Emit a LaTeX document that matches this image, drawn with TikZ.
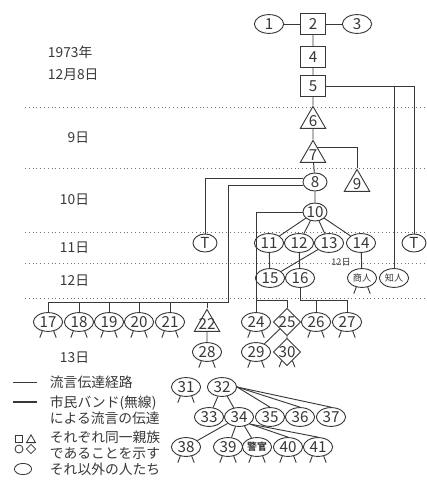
\documentclass[tikz,border=0pt]{standalone}
\usepackage{fontspec}
\setmainfont{Noto Sans CJK JP}
\usetikzlibrary{shapes.geometric}

\definecolor{ink}{gray}{0.22}
\newcommand{\numfont}{\fontsize{10.8}{11}\selectfont}
\newcommand{\dayfont}{\fontsize{9.8}{11.5}\selectfont}
\newcommand{\tinyfont}{\fontsize{6.5}{7}\selectfont}
\newcommand{\legs}[1]{\draw[link] (#1.238) -- ++(-2.5,6.5) (#1.302) -- ++(2.5,6.5);}

\begin{document}
\begin{tikzpicture}[
  x=0.25mm, y=-0.25mm,
  link/.style={draw=ink, line width=0.65pt},
  cb/.style={draw=ink, line width=1.1pt},
  dayline/.style={draw=ink!70, dotted, line width=0.7pt},
  person/.style={draw=ink, line width=0.65pt, ellipse, minimum width=7.3mm, minimum height=4.7mm, inner sep=0pt, text=ink, font=\numfont},
  small/.style={person, minimum width=6mm, minimum height=4.5mm},
  kin/.style={draw=ink, line width=0.65pt, rectangle, minimum width=6.3mm, minimum height=5.2mm, inner sep=0pt, text=ink, font=\numfont},
  num/.style={text=ink, font=\numfont, inner sep=0pt},
  tri/.style={draw=ink, line width=0.65pt, regular polygon, regular polygon sides=3, minimum size=7.3mm, inner sep=0pt, label={[num]center:#1}},
  dia/.style={draw=ink, line width=0.65pt, diamond, minimum width=6.8mm, minimum height=6.8mm, inner sep=0pt, label={[num]center:#1}},
  day/.style={text=ink, font=\dayfont, anchor=east},
  note/.style={text=ink, font=\dayfont, anchor=west, align=left}
]
\fill[white] (0,0) rectangle (427,480);
\useasboundingbox (0,0) rectangle (427,480);

\foreach \y in {107,168,232,263,298}
  \draw[dayline] (25,\y) -- (427,\y);

\node[note] (yr) at (43,52) {1973年};
\node[note] (d8) at (43,75) {12月8日};
\node[day] (d9) at (94,138) {9日};
\node[day] (d10) at (94,200) {10日};
\node[day] (d11) at (94,248) {11日};
\node[day] (d12) at (94,281) {12日};
\node[day] (d13) at (94,358) {13日};

\node[person] (n1) at (269,24) {1};
\node[kin] (n2) at (313,24) {2};
\node[person] (n3) at (357,24) {3};
\node[kin] (n4) at (313,57) {4};
\node[kin] (n5) at (313,86) {5};
\node[tri=6] (n6) at (313,121) {};
\node[tri=7] (n7) at (313,155) {};
\node[small] (n8) at (315,182) {8};
\node[tri=9] (n9) at (357,184) {};
\node[small] (n10) at (315,212) {10};
\node[small] (tL) at (205,243) {T};
\node[small] (tR) at (414,243) {T};
\foreach \n/\x in {11/269,12/299,13/329,14/361}
  \node[person] (n\n) at (\x,243) {\n};
\node[person] (n15) at (270,278) {15};
\node[person] (n16) at (300,278) {16};
\node[person, font=\tinyfont] (mer) at (362,278) {商人};
\node[person, font=\tinyfont] (acq) at (394,278) {知人};
\node[num, font=\tinyfont] (on12) at (341,262) {12日};

\foreach \n/\x in {17/48,18/79,19/109,20/139,21/170}
  \node[person] (n\n) at (\x,322) {\n};
\node[tri=22] (n22) at (207,324) {};
\node[person] (n28) at (207,352) {28};
\node[person] (n24) at (256,322) {24};
\node[dia=25] (n25) at (287,322) {};
\node[person] (n26) at (316,322) {26};
\node[person] (n27) at (347,322) {27};
\node[person] (n29) at (256,352) {29};
\node[dia=30] (n30) at (287,352) {};

\node[person] (n31) at (186,387) {31};
\node[person] (n32) at (222,387) {32};
\foreach \n/\x in {33/209,34/239,35/270,36/300,37/331}
  \node[person] (n\n) at (\x,417) {\n};
\node[person] (n38) at (186,447) {38};
\node[person] (n39) at (228,447) {39};
\node[person, font=\fontsize{7}{7}\selectfont\bfseries] (pol) at (257,447) {警官};
\node[person] (n40) at (288,447) {40};
\node[person] (n41) at (318,447) {41};

\draw[link] (n1) -- (n2) -- (n3);
\draw[link] (n2) -- (n4) -- (n5) -- (n6) -- (n7) -- (n8) -- (n10);
\draw[link] (n7.60) -- (n7.60 -| n9) -- (n9);
\draw[link] (n5) -- (n5 -| tR) -- (tR);
\coordinate (j5) at (n5 -| acq);
\draw[link] (j5) -- (acq);
\draw[link] (n8.165) -- (n8.165 -| tL) -- (tL);
\coordinate (j8) at (228,302);
\draw[link] (n8.195) -| (j8) -| (n17);
\foreach \n in {18,...,22}
  \draw[link] (n\n |- j8) -- (n\n);
\draw[link] (n10.west) -| (n24);
\coordinate (j10) at (256,300);
\draw[link] (j10) -| (n25);
\draw[link] (n10) -- (n11) (n10) -- (n12) (n10) -- (n13) (n10) -- (n14);
\draw[link] (n11) -- (n15) (n12) -- (n16) (n13) -- (n15) (n14) -- (mer);
\coordinate (j16) at (300,300);
\draw[link] (n16) -- (j16) -| (n27);
\draw[link] (n26 |- j16) -- (n26);
\draw[link] (n22) -- (n28) (n25) -- (n29) (n25) -- (n30);
\draw[link] (n32) -- (n33) (n32) -- (n34);
\foreach \n in {35,36,37}
  \draw[link] (n32.east) -- (n\n.north);
\draw[link] (n34) -- (n38) (n34) -- (n39) (n34) -- (pol);
\foreach \n in {40,41}
  \draw[link] (n34.south east) -- (n\n.north);

\foreach \n in {n17,n18,n19,n20,n21,n24,n26,n27,n28,n29,n30,n31,n38,n39,pol,n40,n41,mer}
  \legs{\n};

\coordinate (l1a) at (13,382);
\coordinate (l1b) at (37,382);
\draw[link] (l1a) -- (l1b);
\node[note] (t1) at (45,382) {流言伝達経路};
\coordinate (l2a) at (13,402);
\coordinate (l2b) at (37,402);
\draw[cb] (l2a) -- (l2b);
\node[note] (t2) at (45,410) {市民バンド(無線)\\による流言の伝達};
\node[draw=ink, line width=0.6pt, minimum size=1.8mm, inner sep=0pt] (s1) at (19,439) {};
\node[draw=ink, line width=0.6pt, circle, minimum size=2mm, inner sep=0pt] (s2) at (19,449) {};
\node[draw=ink, line width=0.6pt, regular polygon, regular polygon sides=3, minimum size=2.6mm, inner sep=0pt] (s3) at (31,440) {};
\node[draw=ink, line width=0.6pt, diamond, minimum size=2.4mm, inner sep=0pt] (s4) at (31,449) {};
\node[note] (t3) at (45,445) {それぞれ同一親族\\であることを示す};
\node[draw=ink, line width=0.6pt, ellipse, minimum width=4.3mm, minimum height=2.8mm, inner sep=0pt] (s5) at (23,469) {};
\node[note] (t4) at (45,469) {それ以外の人たち};
\end{tikzpicture}
\end{document}
